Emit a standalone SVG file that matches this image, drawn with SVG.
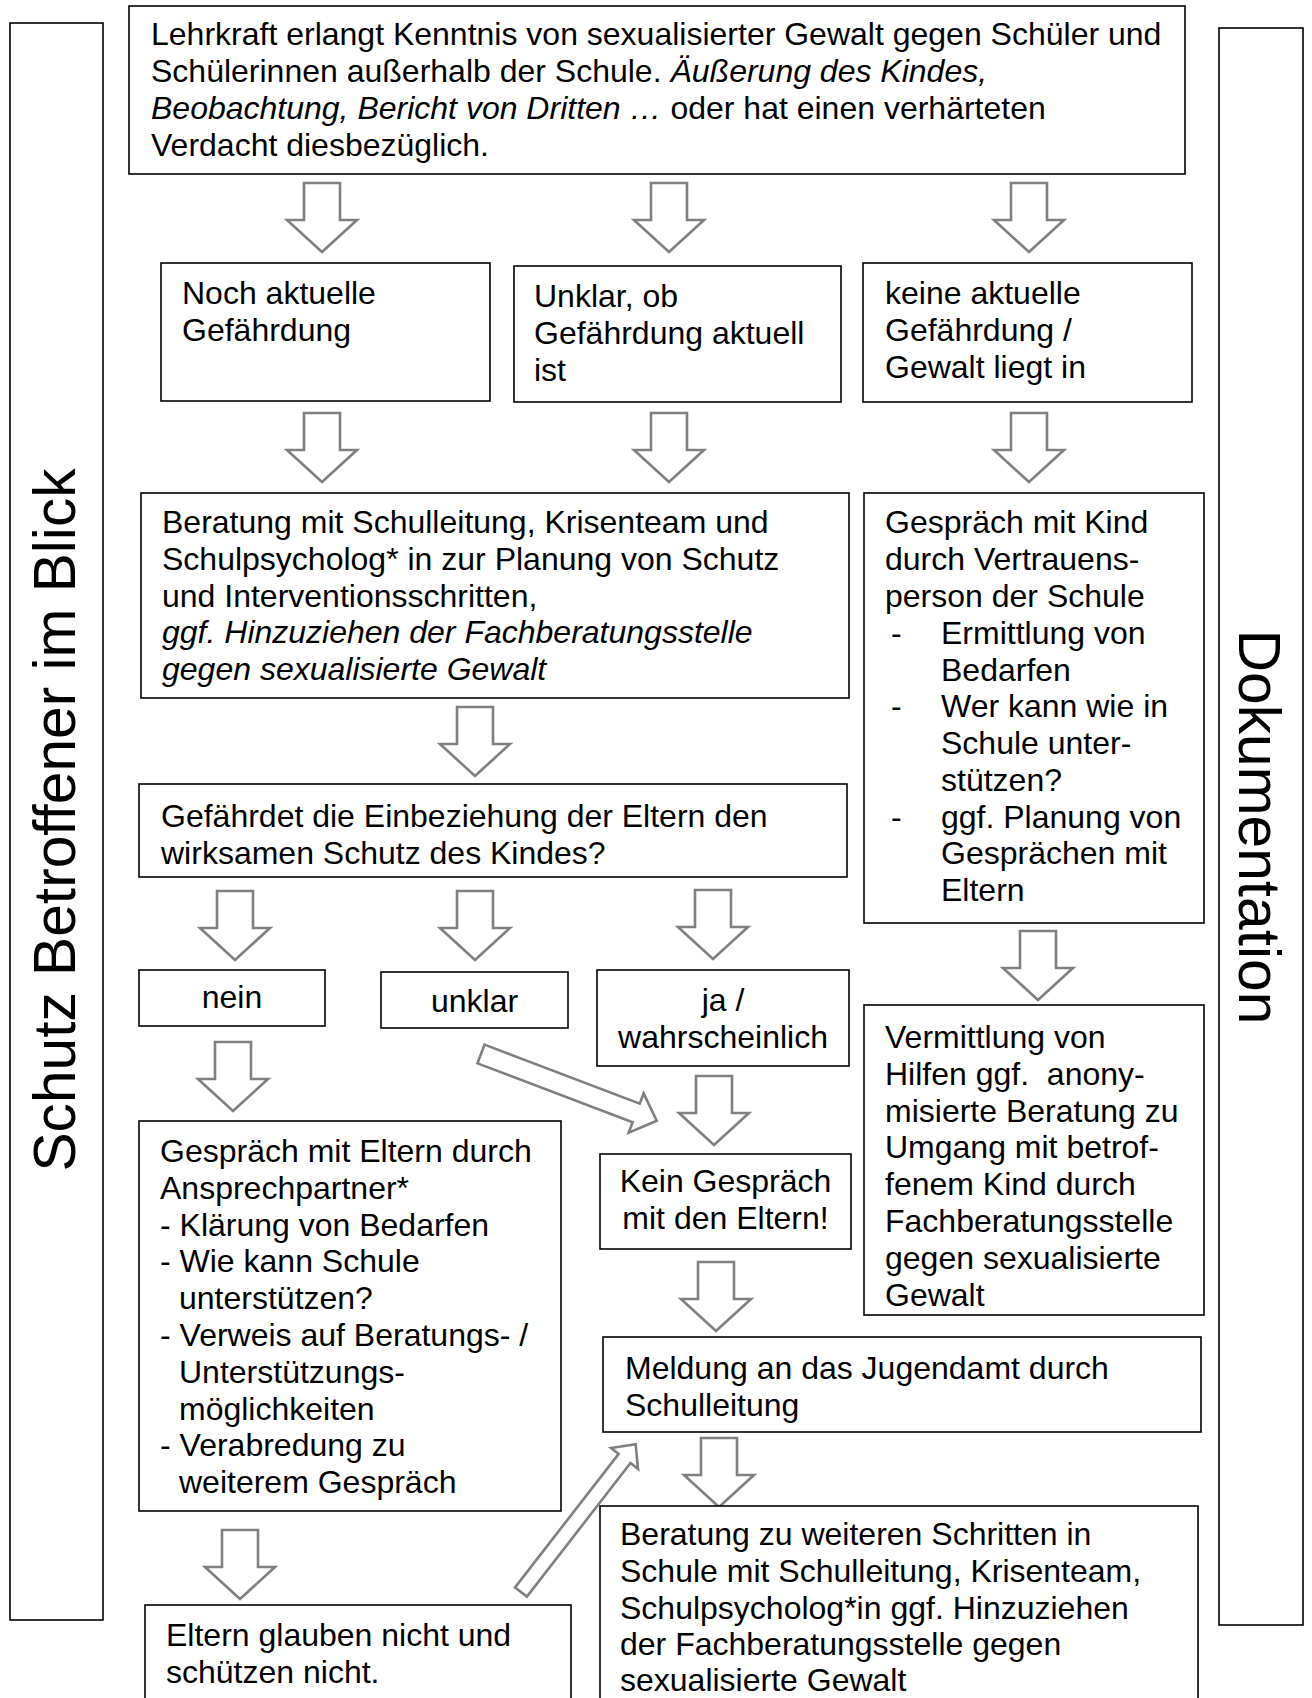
<svg xmlns="http://www.w3.org/2000/svg" xmlns:xlink="http://www.w3.org/1999/xlink" width="1312" height="1698" viewBox="0 0 1312 1698">
<style>
.box{fill:#fff;stroke:#000;stroke-width:1.6}
.arr{fill:#fff;stroke:#7f7f7f;stroke-width:2.6;stroke-linejoin:miter}
text{font-family:"Liberation Sans",Arial,sans-serif;font-size:32px;fill:#000}
.side{font-size:58.67px}
.c{text-anchor:middle}
.i{font-style:italic}
</style>
<defs>
<path id="down" d="M-18,0 L18,0 L18,37 L35,37 L0,69 L-35,37 L-18,37 Z"/>
</defs>
<rect width="1312" height="1698" fill="#fff"/>

<g id="side-left">
<rect class="box" x="10" y="23" width="93" height="1597"/>
<text class="side c" transform="translate(75,820) rotate(-90)">Schutz Betroffener im Blick</text>
</g>
<g id="side-right">
<rect class="box" x="1219" y="28" width="84" height="1597"/>
<text class="side c" transform="translate(1239,827) rotate(90)">Dokumentation</text>
</g>

<g id="connectors">
<use xlink:href="#down" class="arr" x="322" y="183"/>
<use xlink:href="#down" class="arr" x="669" y="183"/>
<use xlink:href="#down" class="arr" x="1029" y="183"/>
<use xlink:href="#down" class="arr" x="322" y="413"/>
<use xlink:href="#down" class="arr" x="669" y="413"/>
<use xlink:href="#down" class="arr" x="1029" y="413"/>
<use xlink:href="#down" class="arr" x="475" y="707"/>
<use xlink:href="#down" class="arr" x="235" y="891"/>
<use xlink:href="#down" class="arr" x="475" y="891"/>
<use xlink:href="#down" class="arr" x="713" y="890"/>
<use xlink:href="#down" class="arr" x="1038" y="931"/>
<use xlink:href="#down" class="arr" x="233" y="1042"/>
<use xlink:href="#down" class="arr" x="714" y="1076"/>
<use xlink:href="#down" class="arr" x="716" y="1262"/>
<use xlink:href="#down" class="arr" x="719" y="1438"/>
<use xlink:href="#down" class="arr" x="240" y="1530"/>
<path class="arr" transform="translate(481,1054) rotate(20.8)" d="M0,-10 L166,-10 L166,-21 L188,0 L166,21 L166,10 L0,10 Z"/>
<path class="arr" transform="translate(521,1592) rotate(-52.2)" d="M0,-7.5 L169,-7.5 L169,-17 L187,0 L169,17 L169,7.5 L0,7.5 Z"/>
</g>

<g id="n-start">
<rect class="box" x="129" y="6" width="1056" height="168"/>
<text x="151" y="45">Lehrkraft erlangt Kenntnis von sexualisierter Gewalt gegen Schüler und</text>
<text x="151" y="82">Schülerinnen außerhalb der Schule. <tspan class="i">Äußerung des Kindes,</tspan></text>
<text x="151" y="119"><tspan class="i">Beobachtung, Bericht von Dritten …</tspan> oder hat einen verhärteten</text>
<text x="151" y="156">Verdacht diesbezüglich.</text>
</g>

<g id="n-aktuell">
<rect class="box" x="161" y="263" width="329" height="138"/>
<text x="182" y="304">Noch aktuelle</text>
<text x="182" y="341">Gefährdung</text>
</g>

<g id="n-unklar-ob">
<rect class="box" x="514" y="266" width="327" height="136"/>
<text x="534" y="307">Unklar, ob</text>
<text x="534" y="344">Gefährdung aktuell</text>
<text x="534" y="381">ist</text>
</g>

<g id="n-keine">
<rect class="box" x="863" y="263" width="329" height="139"/>
<text x="885" y="304">keine aktuelle</text>
<text x="885" y="341">Gefährdung /</text>
<text x="885" y="378">Gewalt liegt in</text>
</g>

<g id="n-beratung">
<rect class="box" x="141" y="493" width="708" height="205"/>
<text x="162" y="533">Beratung mit Schulleitung, Krisenteam und</text>
<text x="162" y="570">Schulpsycholog* in zur Planung von Schutz</text>
<text x="162" y="607">und Interventionsschritten,</text>
<text x="162" y="643" class="i">ggf. Hinzuziehen der Fachberatungsstelle</text>
<text x="162" y="680" class="i">gegen sexualisierte Gewalt</text>
</g>

<g id="n-kind">
<rect class="box" x="864" y="493" width="340" height="430"/>
<text x="885" y="533">Gespräch mit Kind</text>
<text x="885" y="570">durch Vertrauens-</text>
<text x="885" y="607">person der Schule</text>
<text x="891" y="644">-</text><text x="941" y="644">Ermittlung von</text>
<text x="941" y="681">Bedarfen</text>
<text x="891" y="717">-</text><text x="941" y="717">Wer kann wie in</text>
<text x="941" y="754">Schule unter-</text>
<text x="941" y="791">stützen?</text>
<text x="891" y="828">-</text><text x="941" y="828">ggf. Planung von</text>
<text x="941" y="864">Gesprächen mit</text>
<text x="941" y="901">Eltern</text>
</g>

<g id="n-frage">
<rect class="box" x="139" y="784" width="708" height="93"/>
<text x="161" y="827">Gefährdet die Einbeziehung der Eltern den</text>
<text x="161" y="864">wirksamen Schutz des Kindes?</text>
</g>

<g id="n-nein">
<rect class="box" x="139" y="970" width="186" height="56"/>
<text class="c" x="232" y="1008">nein</text>
</g>

<g id="n-unklar">
<rect class="box" x="381" y="972" width="187" height="56"/>
<text class="c" x="474.5" y="1012">unklar</text>
</g>

<g id="n-ja">
<rect class="box" x="597" y="970" width="252" height="96"/>
<text class="c" x="723" y="1011">ja /</text>
<text class="c" x="723" y="1048">wahrscheinlich</text>
</g>

<g id="n-vermittlung">
<rect class="box" x="864" y="1005" width="340" height="310"/>
<text x="885" y="1048">Vermittlung von</text>
<text x="885" y="1085">Hilfen ggf.&#160; anony-</text>
<text x="885" y="1122">misierte Beratung zu</text>
<text x="885" y="1158">Umgang mit betrof-</text>
<text x="885" y="1195">fenem Kind durch</text>
<text x="885" y="1232">Fachberatungsstelle</text>
<text x="885" y="1269">gegen sexualisierte</text>
<text x="885" y="1306">Gewalt</text>
</g>

<g id="n-eltern">
<rect class="box" x="139" y="1121" width="422" height="390"/>
<text x="160" y="1162">Gespräch mit Eltern durch</text>
<text x="160" y="1199">Ansprechpartner*</text>
<text x="160" y="1236">- Klärung von Bedarfen</text>
<text x="160" y="1272">- Wie kann Schule</text>
<text x="179" y="1309">unterstützen?</text>
<text x="160" y="1346">- Verweis auf Beratungs- /</text>
<text x="179" y="1383">Unterstützungs-</text>
<text x="179" y="1420">möglichkeiten</text>
<text x="160" y="1456">- Verabredung zu</text>
<text x="179" y="1493">weiterem Gespräch</text>
</g>

<g id="n-kein">
<rect class="box" x="600" y="1154" width="251" height="95"/>
<text class="c" x="725.5" y="1192">Kein Gespräch</text>
<text class="c" x="725.5" y="1229">mit den Eltern!</text>
</g>

<g id="n-meldung">
<rect class="box" x="603" y="1337" width="598" height="95"/>
<text x="625" y="1379">Meldung an das Jugendamt durch</text>
<text x="625" y="1416">Schulleitung</text>
</g>

<g id="n-weitere">
<rect class="box" x="600" y="1506" width="598" height="210"/>
<text x="620" y="1545">Beratung zu weiteren Schritten in</text>
<text x="620" y="1582">Schule mit Schulleitung, Krisenteam,</text>
<text x="620" y="1619">Schulpsycholog*in ggf. Hinzuziehen</text>
<text x="620" y="1655">der Fachberatungsstelle gegen</text>
<text x="620" y="1691">sexualisierte Gewalt</text>
</g>

<g id="n-glauben">
<rect class="box" x="145" y="1605" width="426" height="110"/>
<text x="166" y="1646">Eltern glauben nicht und</text>
<text x="166" y="1683">schützen nicht.</text>
</g>
</svg>
